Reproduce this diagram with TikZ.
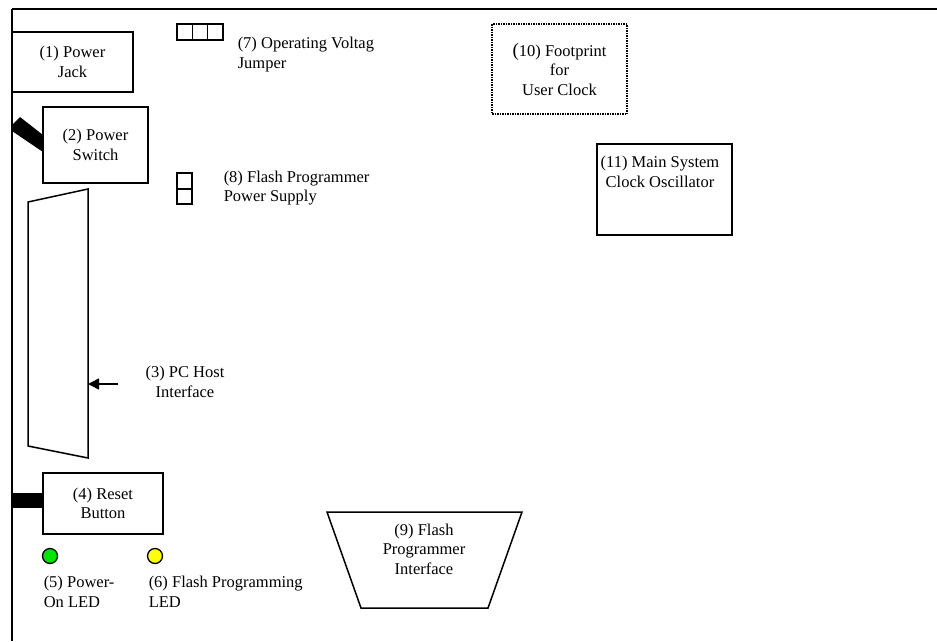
\documentclass[tikz,border=0pt]{standalone}
\usepackage{fontspec}
\setmainfont{Liberation Serif}
\usetikzlibrary{arrows.meta,positioning}

\tikzset{
  part/.style={draw, line width=1.5pt, inner sep=0pt, align=center},
  lbl/.style={font=\fontsize{16.5}{19.5}\selectfont, align=center, inner sep=0pt},
  note/.style={lbl, align=left, anchor=north west},
  led/.style={circle, draw, line width=1.3pt, minimum size=15pt, inner sep=0pt},
}
\definecolor{ledgreen}{RGB}{0,230,0}
\definecolor{ledyellow}{RGB}{255,255,0}

\begin{document}
\begin{tikzpicture}[x=1pt, y=-1pt, line width=1.5pt]
		\useasboundingbox (0,0) rectangle (937,641);
		
		% Board edges
		\draw[line width=2pt] (12,9) -- (937,9);
		\draw[line width=2pt] (12,9) -- (12,641);
		
		% Power jack and power switch
		\node[part, lbl, minimum width=121pt, minimum height=60pt] (jack) at (72.5,62) {(1) Power\\Jack};
		\node[part, lbl, minimum width=105pt, minimum height=76pt] (switch) at (95.5,145) {(2) Power\\Switch};
		\fill (20,117) -- (43,135) -- (43,152) -- (12,131) -- (12,125) -- cycle;
		
		% PC host connector
		\draw (28,202) -- (88,189) -- (88,458) -- (28,446) -- cycle;
		\coordinate (hostport) at (88,384);
		\coordinate (hosttail) at (118,384);
		\node[lbl] (host) at (185,382) {(3) PC Host\\Interface};
		\draw[-{Triangle[length=11pt,width=11pt]}] (hosttail) -- (hostport);
		
		% Reset button
		\node[part, lbl, minimum width=120pt, minimum height=61pt] (reset) at (103,503.5) {(4) Reset\\Button};
		\fill (12,493) rectangle (43,508);
		
		% LEDs
		\node[led, fill=ledgreen] (pwrled) at (50,556) {};
		\node[led, fill=ledyellow] (flashled) at (155,556) {};
		\node[note] (pwrledtxt) at (43,575.5) {(5) Power-\\On LED};
		\node[note] (flashledtxt) at (148,575.5) {(6) Flash Programming\\LED};
		
		% Jumpers
		\foreach \i in {0,1,2}
			\draw[line width=1.4pt] (177+15.33*\i,24) rectangle ++(15.33,16);
		\node[note] (voltjp) at (237,36.5) {(7) Operating Voltag\\Jumper};
		\draw[line width=1.4pt] (177,173) rectangle (192,189);
		\draw[line width=1.4pt] (177,189) rectangle (192,204);
		\node[note] (flashjp) at (223,170) {(8) Flash Programmer\\Power Supply};
		
		% Flash programmer interface
		\draw (327,512) -- (522,512) -- (488,608) -- (361,608) -- cycle;
		\node[lbl] (flashif) at (424,549) {(9) Flash\\Programmer\\Interface};
		
		% Clocks
		\node[part, lbl, densely dotted, minimum width=135pt, minimum height=90pt] (userclk) at (559.5,69)
			{{\fontsize{19}{19}\selectfont(}10) Footprint\\for\\User Clock};
		\node[part, minimum width=135pt, minimum height=91pt] (mainclk) at (664.5,189.5) {};
		\node[lbl, anchor=north] (mainclktxt) at (660,155.5) {(11) Main System\\Clock Oscillator};
\end{tikzpicture}
\end{document}
